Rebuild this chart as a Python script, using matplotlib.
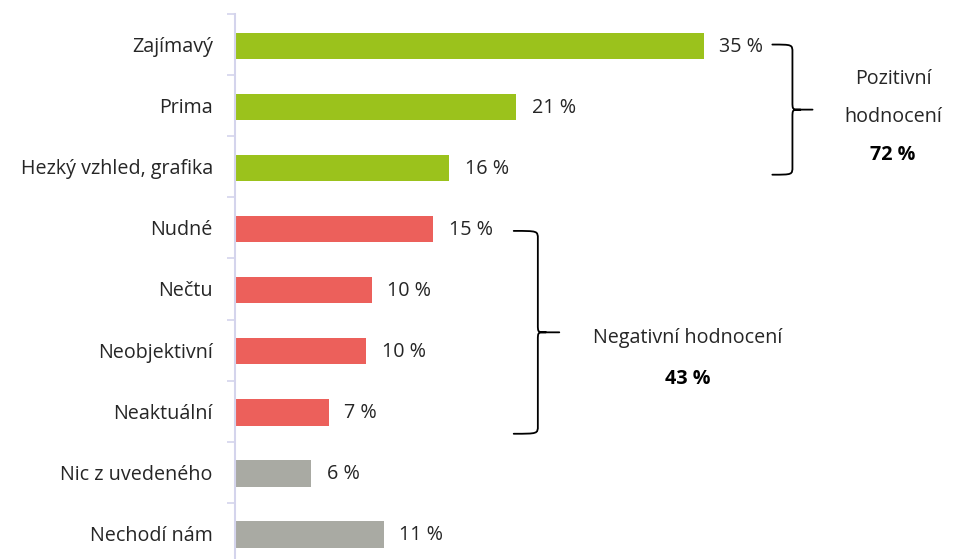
import matplotlib.pyplot as plt
from matplotlib.path import Path
from matplotlib.patches import PathPatch

plt.rcParams["font.family"] = ["Open Sans", "DejaVu Sans"]

categories = ["Zajímavý", "Prima", "Hezký vzhled, grafika", "Nudné", "Nečtu",
              "Neobjektivní", "Neaktuální", "Nic z uvedeného", "Nechodí nám"]
values = [35.0, 21.0, 16.0, 14.8, 10.2, 9.8, 7.0, 5.7, 11.1]
value_labels = ["35 %", "21 %", "16 %", "15 %", "10 %", "10 %", "7 %", "6 %", "11 %"]
groups = ["pos", "pos", "pos", "neg", "neg", "neg", "neg", "none", "none"]

group_colors = {"pos": "#9bc21c", "neg": "#ec605b", "none": "#a9aaa3"}

pos_title = ["Pozitivní", "hodnocení"]
pos_total = "72 %"
neg_title = ["Negativní hodnocení"]
neg_total = "43 %"

TXT = "#262626"
FS = 14.2

W, H = 959, 559
fig = plt.figure(figsize=(W / 100, H / 100), dpi=100)
row_px = 61.1
px_per_pct = 13.4
ax_left = 235
ax_top = 14
n = len(categories)
ax_h = n * row_px
ax = fig.add_axes([ax_left / W, (H - ax_top - ax_h) / H, (W - ax_left) / W, ax_h / H])

ypos = list(range(n))
ax.barh([y + 0.02 for y in ypos], values, height=0.43,
        color=[group_colors[g] for g in groups], zorder=2)
ax.set_ylim(n - 0.5, -0.5)
ax.set_xlim(0, (W - ax_left) / px_per_pct)

for y, v, lab in zip(ypos, values, value_labels):
    ax.annotate(lab, (v, y), xytext=(11, -1.5), textcoords="offset points",
                va="center", ha="left", fontsize=FS, color=TXT)

ax.set_yticks(ypos)
ax.set_yticklabels(categories, fontsize=FS, color=TXT)
for t in ax.get_yticklabels():
    t.set_va("center_baseline")
ax.tick_params(axis="y", which="major", length=0, pad=16)
ax.set_yticks([i - 0.5 for i in range(n + 1)], minor=True)
ax.tick_params(axis="y", which="minor", length=6, width=1.2, color="#d4d4ec")
ax.set_xticks([])
for s in ["top", "right", "bottom"]:
    ax.spines[s].set_visible(False)
ax.spines["left"].set_color("#d4d4ec")
ax.spines["left"].set_linewidth(1.5)


def brace(ax, x0, xv, xt, y0, y1):
    rx, ry = 0.6, 0.13
    ym = (y0 + y1) / 2
    verts = [(x0, y0), (xv, y0), (xv, y0), (xv, y0 + ry),
             (xv, ym - ry),
             (xv, ym), (xv, ym), (xv + rx, ym),
             (xt, ym),
             (xv + rx, ym), (xv, ym), (xv, ym), (xv, ym + ry),
             (xv, y1 - ry),
             (xv, y1), (xv, y1), (x0, y1)]
    codes = [Path.MOVETO, Path.CURVE4, Path.CURVE4, Path.CURVE4,
             Path.LINETO,
             Path.CURVE4, Path.CURVE4, Path.CURVE4,
             Path.LINETO,
             Path.MOVETO, Path.CURVE4, Path.CURVE4, Path.CURVE4,
             Path.LINETO,
             Path.CURVE4, Path.CURVE4, Path.CURVE4]
    ax.add_patch(PathPatch(Path(verts, codes), fill=False, lw=1.3, color="black",
                           capstyle="round", clip_on=False))


brace(ax, 40.1, 41.6, 43.1, 0.0, 2.13)
brace(ax, 20.8, 22.6, 24.2, 3.05, 6.37)

ax.text(49.1, 0.57, pos_title[0], ha="center", va="center", fontsize=FS, color=TXT)
ax.text(49.1, 1.18, pos_title[1], ha="center", va="center", fontsize=FS, color=TXT)
ax.text(49.1, 1.8, pos_total, ha="center", va="center", fontsize=FS,
        color="black", fontweight="bold")
ax.text(33.8, 4.8, neg_title[0], ha="center", va="center", fontsize=FS, color=TXT)
ax.text(33.8, 5.47, neg_total, ha="center", va="center", fontsize=FS,
        color="black", fontweight="bold")

fig.savefig("out.png", dpi=100)
